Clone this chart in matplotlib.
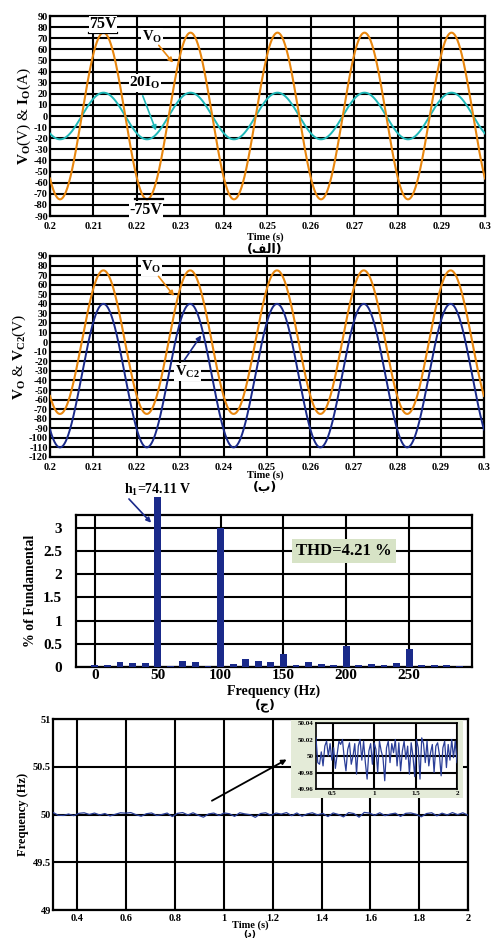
import numpy as np
import matplotlib
matplotlib.use("Agg")
import matplotlib.pyplot as plt

W, H = 492, 938
plt.rcParams['font.family'] = ['Liberation Serif', 'DejaVu Sans']
plt.rcParams['font.weight'] = 'bold'
plt.rcParams['axes.unicode_minus'] = False
plt.rcParams['mathtext.fontset'] = 'custom'
plt.rcParams['mathtext.rm'] = 'Liberation Serif:bold'
plt.rcParams['mathtext.it'] = 'Liberation Serif:bold'
plt.rcParams['mathtext.bf'] = 'Liberation Serif:bold'
plt.rcParams['mathtext.default'] = 'rm'

# ---------------- data ----------------
# waveform parameters (a) and (b)
f_grid = 50.0            # Hz
t_peak = 0.2123          # s, time of a positive peak
vo_amp = 75.0            # V
io20_amp = 21.0          # 20*Io amplitude
vc2_amp = 75.0
vc2_offset = -35.0

t1_ticks = [0.2, 0.21, 0.22, 0.23, 0.24, 0.25, 0.26, 0.27, 0.28, 0.29, 0.3]
t1_labels = ["0.2", "0.21", "0.22", "0.23", "0.24", "0.25", "0.26", "0.27", "0.28", "0.29", "0.3"]

# harmonic spectrum (c)
harm_freq = [0, 10, 20, 30, 40, 50, 60, 70, 80, 90, 100, 110, 120, 130, 140, 150,
             160, 170, 180, 190, 200, 210, 220, 230, 240, 250, 260, 270, 280, 290]
harm_pct = [0.05, 0.035, 0.10, 0.09, 0.085, 3.67, 0.03, 0.12, 0.10, 0.03, 2.99, 0.06,
            0.17, 0.14, 0.10, 0.27, 0.04, 0.11, 0.06, 0.05, 0.45, 0.05, 0.06, 0.05,
            0.08, 0.38, 0.05, 0.035, 0.05, 0.02]
spec_xticks = [0, 50, 100, 150, 200, 250]
spec_yticks = [0, 0.5, 1, 1.5, 2, 2.5, 3]
spec_ylabels = ["0", "0.5", "1", "1.5", "2", "2.5", "3"]

# frequency tracking (d)
freq_dev_mhz = [22, -8, -10, 5, -12, 12, 18, 0, 15, -5, 10, -15, 2, 18, 14, 20, -2, -18,
                8, 16, -10, 0, 15, -22, 12, 20, -5, 18, -8, -28, 6, 15, -10, 16, 8, -20,
                18, 6, -2, -30, 10, 18, -8, 15, 4, 20, -12, 16, -18, 6, 18, -4, 12, -22,
                16, 0, -25, 20, 10, -28, 22, 15, -8, 18, -12, 4, 14, -20, 12, 16, 2, -24,
                10, 18, -14, 14, -5, 20, -2, 18, -8]
freq_t_start, freq_t_end = 0.3, 2.0
f4_xticks = [0.4, 0.6, 0.8, 1.0, 1.2, 1.4, 1.6, 1.8, 2.0]
f4_xlabels = ["0.4", "0.6", "0.8", "1", "1.2", "1.4", "1.6", "1.8", "2"]
f4_yticks = [49, 49.5, 50, 50.5, 51]
f4_ylabels = ["49", "49.5", "50", "50.5", "51"]

ORANGE = "#E8860E"
CYAN = "#1FB8B8"
NAVY = "#1A2A8A"
BLUE = "#2A3E98"

fig = plt.figure(figsize=(W / 100, H / 100), dpi=100)


def ax_px(l, r, t, b):
    return fig.add_axes([l / W, 1 - b / H, (r - l) / W, (b - t) / H])


def fig_text(x, y, s, **kw):
    fig.text(x / W, 1 - y / H, s, ha='center', va='center', **kw)


def style(ax, fs=7.5, xpad=1.5):
    ax.tick_params(length=0, labelsize=fs, pad=1.5)
    ax.tick_params(axis='x', pad=xpad)
    for lab in ax.get_xticklabels() + ax.get_yticklabels():
        lab.set_fontweight('bold')
    for sp in ax.spines.values():
        sp.set_linewidth(1.6)
    ax.grid(True, color='black', linewidth=1.5)
    ax.set_axisbelow(True)


t = np.linspace(0.2, 0.3, 2000)
phase = 2 * np.pi * f_grid * (t - t_peak)
vo = vo_amp * np.cos(phase)
io20 = io20_amp * np.cos(phase)
vc2 = vc2_offset + vc2_amp * np.cos(phase)

# ---------------- panel (a) ----------------
ax1 = ax_px(50, 485, 16, 216)
ax1.plot(t, io20, color=CYAN, lw=1.4, zorder=3)
ax1.plot(t, vo, color=ORANGE, lw=1.5, zorder=4)
ax1.set_xlim(0.2, 0.3)
ax1.set_ylim(-90, 90)
ax1.set_xticks(t1_ticks)
ax1.set_xticklabels(t1_labels)
ax1.set_yticks(np.arange(-90, 91, 10))
style(ax1, 7.5, xpad=4)
ax1.set_ylabel(r"$V_O$(V) & $I_O$(A)", fontsize=11, labelpad=1)
ax1.plot([0.2090, 0.2155], [75, 75], color='black', lw=1.6, zorder=5)
ax1.plot([0.2196, 0.2260], [-75, -75], color='black', lw=1.6, zorder=5)
wb = dict(facecolor='white', edgecolor='none', pad=0.5)
ax1.text(0.2122, 82.5, "75V", fontsize=11.5, ha='center', va='center', bbox=wb, zorder=6)
ax1.text(0.2221, -84.5, "-75V", fontsize=11.5, ha='center', va='center', bbox=wb, zorder=6)
ax1.text(0.2234, 71, r"$V_O$", fontsize=10.5, ha='center', va='center', bbox=wb, zorder=6)
ax1.text(0.2218, 29.5, r"20$I_O$", fontsize=11, ha='center', va='center', bbox=wb, zorder=6)
ax1.annotate("", xy=(0.2287, 46), xytext=(0.2246, 65.5),
             arrowprops=dict(arrowstyle='-|>', color=ORANGE, lw=1.2, mutation_scale=7), zorder=7)
ax1.annotate("", xy=(0.2246, -15.5), xytext=(0.2211, 20.5),
             arrowprops=dict(arrowstyle='-|>', color=CYAN, lw=1.2, mutation_scale=7), zorder=7)
fig_text(265, 237, "Time (s)", fontsize=7.5, fontweight='bold')
fig_text(265, 249, "(\ufed2\ufedf\ufe8d)", fontsize=9, fontweight='bold',
         family=['DejaVu Sans'])

# ---------------- panel (b) ----------------
ax2 = ax_px(50, 484, 256, 457)
ax2.plot(t, vc2, color=NAVY, lw=1.4, zorder=3)
ax2.plot(t, vo, color=ORANGE, lw=1.5, zorder=4)
ax2.set_xlim(0.2, 0.3)
ax2.set_ylim(-120, 90)
ax2.set_xticks(t1_ticks)
ax2.set_xticklabels(t1_labels)
ax2.set_yticks(np.arange(-120, 91, 10))
style(ax2, 7.5, xpad=4)
ax2.set_ylabel(r"$V_O$ & $V_{C2}$(V)", fontsize=11, labelpad=1)
ax2.text(0.2234, 78.5, r"$V_O$", fontsize=10.5, ha='center', va='center', bbox=wb, zorder=6)
ax2.text(0.2317, -31, r"$V_{C2}$", fontsize=10.5, ha='center', va='center', bbox=wb, zorder=6)
ax2.annotate("", xy=(0.2290, 46), xytext=(0.2246, 71),
             arrowprops=dict(arrowstyle='-|>', color=ORANGE, lw=1.2, mutation_scale=7), zorder=7)
ax2.annotate("", xy=(0.2352, 9.5), xytext=(0.2306, -21),
             arrowprops=dict(arrowstyle='-|>', color=NAVY, lw=1.2, mutation_scale=7), zorder=7)
fig_text(265, 475, "Time (s)", fontsize=7.5, fontweight='bold')
fig_text(265, 487, "(\u0628)", fontsize=9, fontweight='bold', family=['DejaVu Sans'])

# ---------------- panel (c) ----------------
ax3 = ax_px(76, 472, 515, 667)
bars = ax3.bar(harm_freq, harm_pct, width=5.5, color=NAVY, zorder=3)
for b in bars:
    b.set_clip_on(False)
ax3.set_xlim(-15, 300)
ax3.set_ylim(0, 3.28)
ax3.set_xticks(spec_xticks)
ax3.set_yticks(spec_yticks)
ax3.set_yticklabels(spec_ylabels)
style(ax3, 11)
ax3.tick_params(axis='y', pad=10)
ax3.set_ylabel("% of Fundamental", fontsize=10, fontweight='bold', labelpad=4)
ax3.set_xlabel("Frequency (Hz)", fontsize=10, fontweight='bold', labelpad=2)
ax3.text(50.3, 3.83, r"$h_1$=74.11 V", fontsize=10, ha='center', va='center',
         clip_on=False)
ax3.annotate("", xy=(46.3, 3.07), xytext=(25.6, 3.67), annotation_clip=False,
             arrowprops=dict(arrowstyle='-|>', color=NAVY, lw=1.2, mutation_scale=7), zorder=7)
ax3.text(198.4, 2.5, "THD=4.21 %", fontsize=12, ha='center', va='center', zorder=6,
         bbox=dict(facecolor='#D7E3C6', edgecolor='none', pad=3))
fig_text(265, 705, "(\u062c)", fontsize=9, fontweight='bold', family=['DejaVu Sans'])

# ---------------- panel (d) ----------------
ft = np.linspace(freq_t_start, freq_t_end, len(freq_dev_mhz))
fv = 50 + np.array(freq_dev_mhz) / 1000.0
ax4 = ax_px(53, 468, 719, 910)
ax4.plot(ft, fv, color=BLUE, lw=0.9, zorder=3)
ax4.set_xlim(0.3, 2.0)
ax4.set_ylim(49, 51)
ax4.set_xticks(f4_xticks)
ax4.set_xticklabels(f4_xlabels)
ax4.set_yticks(f4_yticks)
ax4.set_yticklabels(f4_ylabels)
style(ax4, 7.5, xpad=3)
ax4.set_ylabel("Frequency (Hz)", fontsize=9, fontweight='bold', labelpad=3)
fig_text(250, 925, "Time (s)", fontsize=7.5, fontweight='bold')
ax4.annotate("", xy=(1.267, 50.59), xytext=(0.941, 50.13),
             arrowprops=dict(arrowstyle='-|>', color='black', lw=1.3, mutation_scale=7))
fig_text(250, 934, "(\u062f)", fontsize=6.5, fontweight='bold', family=['DejaVu Sans'])

# inset
bg = fig.add_axes([291 / W, 1 - 798 / H, (463 - 291) / W, (798 - 720) / H])
bg.set_facecolor('#E4EBD8')
bg.set_xticks([]); bg.set_yticks([])
for sp in bg.spines.values():
    sp.set_visible(False)
axi = ax_px(316, 457, 723, 789)
axi.plot(ft, fv, color=BLUE, lw=0.9, zorder=3)
axi.set_xlim(0.3, 2.0)
axi.set_ylim(49.96, 50.04)
axi.set_xticks([0.5, 1.0, 1.5, 2.0])
axi.set_xticklabels(["0.5", "1", "1.5", "2"])
axi.set_yticks([49.96, 49.98, 50.0, 50.02, 50.04])
axi.set_yticklabels(["49.96", "49.98", "50", "50.02", "50.04"])
style(axi, 5)
axi.set_facecolor('white')
for sp in axi.spines.values():
    sp.set_linewidth(1.2)

fig.savefig("out.png", dpi=100)
